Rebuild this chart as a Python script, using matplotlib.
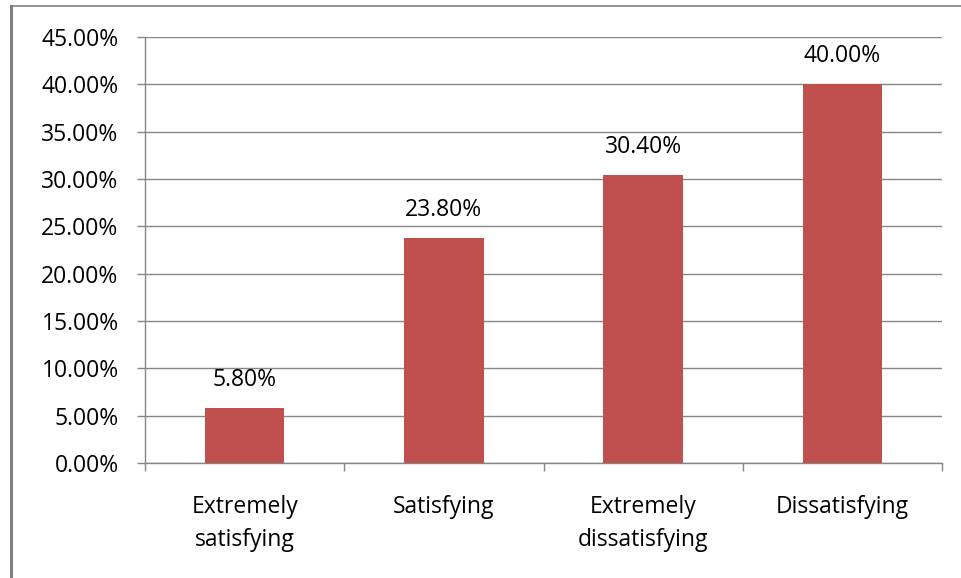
import matplotlib
matplotlib.use("Agg")
import matplotlib.pyplot as plt
from matplotlib.lines import Line2D
from matplotlib.ticker import FuncFormatter, MultipleLocator, FixedLocator

categories = ["Extremely\nsatisfying", "Satisfying", "Extremely\ndissatisfying", "Dissatisfying"]
values = [5.8, 23.8, 30.4, 40.0]
value_labels = ["5.80%", "23.80%", "30.40%", "40.00%"]

plt.rcParams['font.family'] = ['Open Sans', 'DejaVu Sans']
fig = plt.figure(figsize=(9.62, 5.78), dpi=100)
ax = fig.add_axes([145/962, 1-463/578, (942-145)/962, (463-37)/578])

grid_c = "#868686"
fs = 16.5
x = list(range(len(categories)))
bars = ax.bar(x, values, width=0.4, color="#C0504D", zorder=3)
ax.set_xlim(-0.5, len(categories)-0.5)
ax.set_ylim(0, 45)
ax.yaxis.set_major_locator(MultipleLocator(5))
ax.yaxis.set_major_formatter(FuncFormatter(lambda v, p: f"{v:.2f}%"))
ax.yaxis.grid(True, color=grid_c, linewidth=1)
ax.set_axisbelow(True)

ax.set_xticks(x)
ax.set_xticklabels(categories, fontsize=fs, linespacing=1.5)
ax.xaxis.set_minor_locator(FixedLocator([i - 0.5 for i in range(len(categories)+1)]))
ax.tick_params(axis='x', which='major', length=0, pad=23)
ax.tick_params(axis='x', which='minor', length=6, color=grid_c, width=1)
ax.tick_params(axis='y', length=6, color=grid_c, width=1, pad=13, labelsize=fs)

for s in ['top', 'right']:
    ax.spines[s].set_visible(False)
for s in ['left', 'bottom']:
    ax.spines[s].set_color(grid_c)
    ax.spines[s].set_linewidth(1)

for b, lab in zip(bars, value_labels):
    ax.annotate(lab, (b.get_x() + b.get_width()/2, b.get_height()),
                xytext=(0, 11.5), textcoords="offset points",
                ha="center", va="bottom", fontsize=fs)

fig.add_artist(Line2D([11/962, 11/962], [0, 1-6/578], transform=fig.transFigure,
                      color="#808080", linewidth=2.2))
fig.add_artist(Line2D([11/962, 1], [1-6/578, 1-6/578], transform=fig.transFigure,
                      color="#808080", linewidth=1.2))

fig.savefig("out.png", dpi=100)
